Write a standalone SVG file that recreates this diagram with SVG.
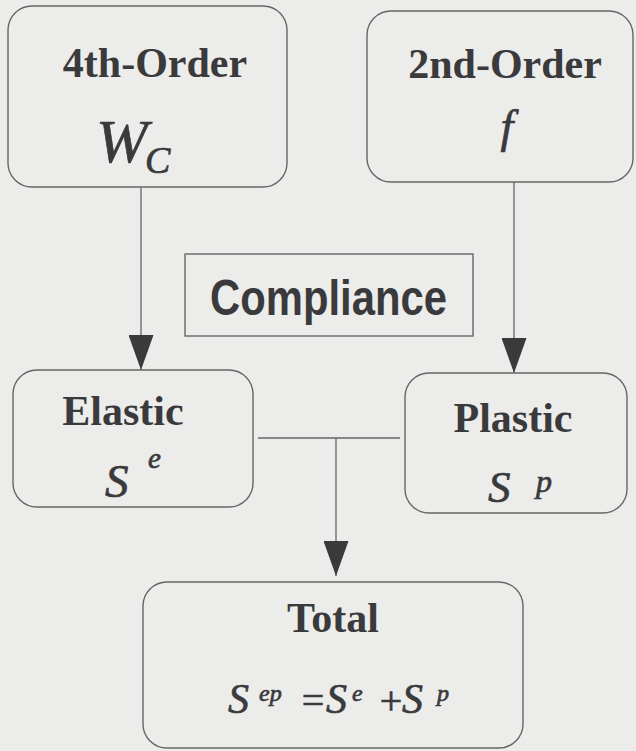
<svg xmlns="http://www.w3.org/2000/svg" width="636" height="751" viewBox="0 0 636 751">
  <defs>
    <marker id="head" viewBox="0 0 35 25" refX="35" refY="12.5" markerWidth="35" markerHeight="25" markerUnits="userSpaceOnUse" orient="auto">
      <path d="M0,0 L35,12.5 L0,25 Z" fill="#3a3a3c"/>
    </marker>
    <style>
      .box { fill: none; stroke: #666; stroke-width: 1.4; }
      .wire { fill: none; stroke: #666; stroke-width: 1.3; }
      .serif { font-family: 'Liberation Serif', 'Times New Roman', 'DejaVu Serif', serif; }
      .title { font-weight: bold; font-size: 42px; fill: #3a3a3c; text-anchor: middle; }
      .math { font-style: italic; fill: #3a3a3c; stroke: #3a3a3c; stroke-width: 0.7; }
      .op { fill: #3a3a3c; stroke: #3a3a3c; stroke-width: 0.7; text-anchor: middle; font-size: 40px; }
      .sans { font-family: 'Liberation Sans', Arial, Helvetica, sans-serif; font-weight: bold; font-size: 50px; fill: #3a3a3c; }
    </style>
  </defs>
  <rect width="636" height="751" fill="#ececea"/>

  <g id="connectors">
    <line class="wire" x1="141" y1="187" x2="141" y2="370" marker-end="url(#head)"/>
    <line class="wire" x1="514" y1="182" x2="514" y2="373" marker-end="url(#head)"/>
    <line class="wire" x1="258" y1="438" x2="400" y2="438"/>
    <line class="wire" x1="336" y1="438" x2="336" y2="576" marker-end="url(#head)"/>
  </g>

  <g id="fourth-order" class="serif">
    <rect class="box" x="8" y="6" width="279" height="181" rx="24"/>
    <text class="title" x="155" y="77">4th-Order</text>
    <text class="math" x="96" y="162" font-size="62">W</text>
    <text class="math" x="145" y="173" font-size="38">C</text>
  </g>

  <g id="second-order" class="serif">
    <rect class="box" x="367" y="11" width="266" height="171" rx="24"/>
    <text class="title" x="505" y="78" font-size="41">2nd-Order</text>
    <text class="math" x="507" y="142" font-size="46" text-anchor="middle">f</text>
  </g>

  <g id="compliance">
    <rect class="box" x="185" y="254" width="288" height="82"/>
    <text class="sans" x="210" y="315" textLength="237" lengthAdjust="spacingAndGlyphs">Compliance</text>
  </g>

  <g id="elastic" class="serif">
    <rect class="box" x="13" y="370" width="240" height="137" rx="24"/>
    <text class="title" x="123" y="425">Elastic</text>
    <text class="math" x="105" y="497" font-size="47">S</text>
    <text class="math" x="148" y="468" font-size="29">e</text>
  </g>

  <g id="plastic" class="serif">
    <rect class="box" x="405" y="373" width="222" height="140" rx="24"/>
    <text class="title" x="513" y="432">Plastic</text>
    <text class="math" x="488" y="502" font-size="45">S</text>
    <text class="math" x="536" y="492" font-size="32">p</text>
  </g>

  <g id="total" class="serif">
    <rect class="box" x="143" y="582" width="380" height="166" rx="24"/>
    <text class="title" x="333" y="632" font-size="40">Total</text>
    <text class="math" x="228" y="713" font-size="42">S</text>
    <text class="math" x="259" y="701" font-size="24">ep</text>
    <text class="op" x="313" y="714">=</text>
    <text class="math" x="326" y="713" font-size="42">S</text>
    <text class="math" x="352" y="701" font-size="24">e</text>
    <text class="op" x="391" y="714">+</text>
    <text class="math" x="402" y="713" font-size="42">S</text>
    <text class="math" x="437" y="701" font-size="24">p</text>
  </g>
</svg>
